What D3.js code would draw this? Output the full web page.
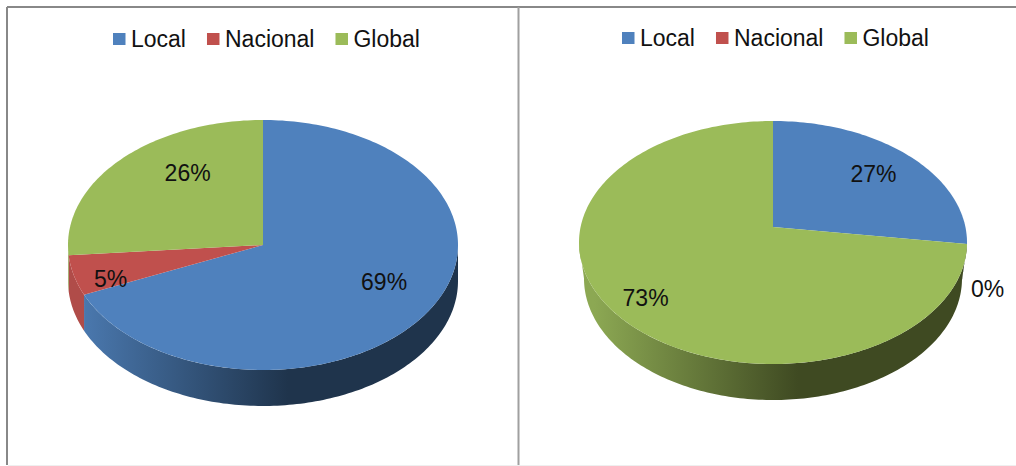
<!DOCTYPE html>
<html>
<head>
<meta charset="utf-8">
<title>Local Nacional Global</title>
<script src="https://d3js.org/d3.v7.min.js"></script>
<style>
  body { margin: 0; background: #fff; }
  svg { display: block; }
  text { font-family: "Liberation Sans", Arial, sans-serif; font-size: 23px; fill: #111; }
</style>
</head>
<body>
<script>
var w = 1016;
var h = 466;

// data
var categories = ["Local", "Nacional", "Global"];
var leftValues = [68.5, 5.2, 26.3];
var rightValues = [27.2, 0, 72.8];
var leftLabels = ["69%", "5%", "26%"];
var rightLabels = ["27%", "0%", "73%"];

// colors per category
var faceColors = ["#4f81bd", "#c0504d", "#9bbb59"];
var sideLight = ["#4a78ae", "#b04c49", "#8ca853"];
var sideDark = ["#1f344c", "#8f3f3d", "#3f4a22"];

// layout of both pies, apex is how far the center of the slices sits from the ellipse center
var leftPie = { id: "left", cx: 263, cy: 245, rx: 195, ry: 125, bottomRx: 195, depth: 36, apex: 0,
                legendX: 113, legendY: 46.5, nudge: [[7, -3], [-20, 21], [25, -5]] };
var rightPie = { id: "right", cx: 773, cy: 242.5, rx: 194, ry: 121.5, bottomRx: 189, depth: 36, apex: -15.5,
                 legendX: 622, legendY: 45.5, nudge: [[-2, 11], [80, 58], [-25, 23]] };

var svg = d3.select("body").append("svg")
  .attr("width", w)
  .attr("height", h);
var defs = svg.append("defs");

drawFrame();
drawChart(leftPie, leftValues, leftLabels);
drawChart(rightPie, rightValues, rightLabels);

function drawFrame() {
  var lines = [[7, 7, 7, h - 1, "#888"], [7, 7, w, 7, "#888"], [518.5, 7, 518.5, h, "#a0a0a0"], [8, h - 0.5, w, h - 0.5, "#efefef"]];
  svg.selectAll(".frame")
    .data(lines)
    .enter().append("line")
    .attr("class", "frame")
    .attr("x1", function(d) { return d[0]; })
    .attr("y1", function(d) { return d[1]; })
    .attr("x2", function(d) { return d[2]; })
    .attr("y2", function(d) { return d[3]; })
    .attr("stroke", function(d) { return d[4]; })
    .attr("stroke-width", function(d) { return d[4] == "#efefef" ? 1 : 2; });
}

// where a ray from the apex at this angle hits the ellipse, as a rim angle
function rimAngle(p, angle) {
  var q = p.apex / p.ry;
  var c = Math.cos(angle);
  var s = q * c + Math.sqrt(q * q * c * c - q * q + 1);
  var a = Math.atan2(Math.sin(angle) * s, c * s - q);
  if (a < 0) a += 2 * Math.PI;
  // keep the full turn at the end of the last slice
  if (angle > 0 && a < 1e-6) a = 2 * Math.PI;
  return a;
}

function anglesBetween(a0, a1) {
  var steps = Math.max(2, Math.ceil((a1 - a0) / 0.02));
  var scale = d3.scaleLinear().domain([0, steps]).range([a0, a1]);
  return d3.range(steps + 1).map(scale);
}

function drawChart(p, values, labels) {
  var pie = d3.pie().sort(null).value(function(d) { return d; });
  var slices = pie(values);
  var g = svg.append("g").attr("class", "pie-" + p.id);

  // x scale of the unit circle, used for rim and labels
  var x = d3.scaleLinear().domain([-1, 1]).range([p.cx - p.rx, p.cx + p.rx]);
  var y = d3.scaleLinear().domain([-1, 1]).range([p.cy - p.ry, p.cy + p.ry]);
  var xBottom = d3.scaleLinear().domain([-1, 1]).range([p.cx - p.bottomRx, p.cx + p.bottomRx]);
  var line = d3.line();

  // gradients for the side wall
  categories.forEach(function(c, i) {
    var grad = defs.append("linearGradient")
      .attr("id", "side-" + p.id + "-" + i)
      .attr("gradientUnits", "userSpaceOnUse")
      .attr("x1", p.cx - p.rx + 15).attr("x2", p.cx + 25)
      .attr("y1", 0).attr("y2", 0);
    grad.append("stop").attr("offset", 0).attr("stop-color", sideLight[i]);
    grad.append("stop").attr("offset", 1).attr("stop-color", sideDark[i]);
  });

  // side wall, only the front half of the ellipse is visible
  slices.forEach(function(d, i) {
    if (d.value == 0) return;
    var a0 = Math.max(rimAngle(p, d.startAngle), Math.PI / 2);
    var a1 = Math.min(rimAngle(p, d.endAngle), 3 * Math.PI / 2);
    if (a1 <= a0) return;
    var angles = anglesBetween(a0, a1);
    var top = angles.map(function(a) {
      return [x(Math.sin(a)), y(-Math.cos(a))];
    });
    var bottom = angles.slice().reverse().map(function(a) {
      return [xBottom(Math.sin(a)), y(-Math.cos(a)) + p.depth];
    });
    g.append("path")
      .attr("d", line(top.concat(bottom)) + "Z")
      .attr("fill", "url(#side-" + p.id + "-" + i + ")");
  });

  // top face
  slices.forEach(function(d, i) {
    if (d.value == 0) return;
    var pts = anglesBetween(rimAngle(p, d.startAngle), rimAngle(p, d.endAngle)).map(function(a) {
      return [x(Math.sin(a)), y(-Math.cos(a))];
    });
    pts.unshift([p.cx, p.cy + p.apex]);
    g.append("path")
      .attr("d", line(pts) + "Z")
      .attr("fill", faceColors[i]);
  });

  // percent labels, from the middle of each slice plus a small nudge
  g.selectAll(".label")
    .data(slices)
    .enter().append("text")
    .attr("class", "label")
    .attr("text-anchor", "middle")
    .attr("x", function(d, i) {
      var mid = (d.startAngle + d.endAngle) / 2;
      return x(0.7 * Math.sin(mid)) + p.nudge[i][0];
    })
    .attr("y", function(d, i) {
      var mid = (d.startAngle + d.endAngle) / 2;
      return y(-0.7 * Math.cos(mid)) + p.apex + p.nudge[i][1];
    })
    .text(function(d, i) { return labels[i]; });

  legend(g, p);
}

function legend(g, p) {
  var cursor = p.legendX;
  categories.forEach(function(c, i) {
    g.append("rect")
      .attr("x", cursor)
      .attr("y", p.legendY - 13.5)
      .attr("width", 12.5)
      .attr("height", 12)
      .attr("fill", faceColors[i]);
    var t = g.append("text")
      .attr("x", cursor + 18)
      .attr("y", p.legendY)
      .text(c);
    cursor += 18 + t.node().getComputedTextLength() + 21;
  });
}
</script>
</body>
</html>
